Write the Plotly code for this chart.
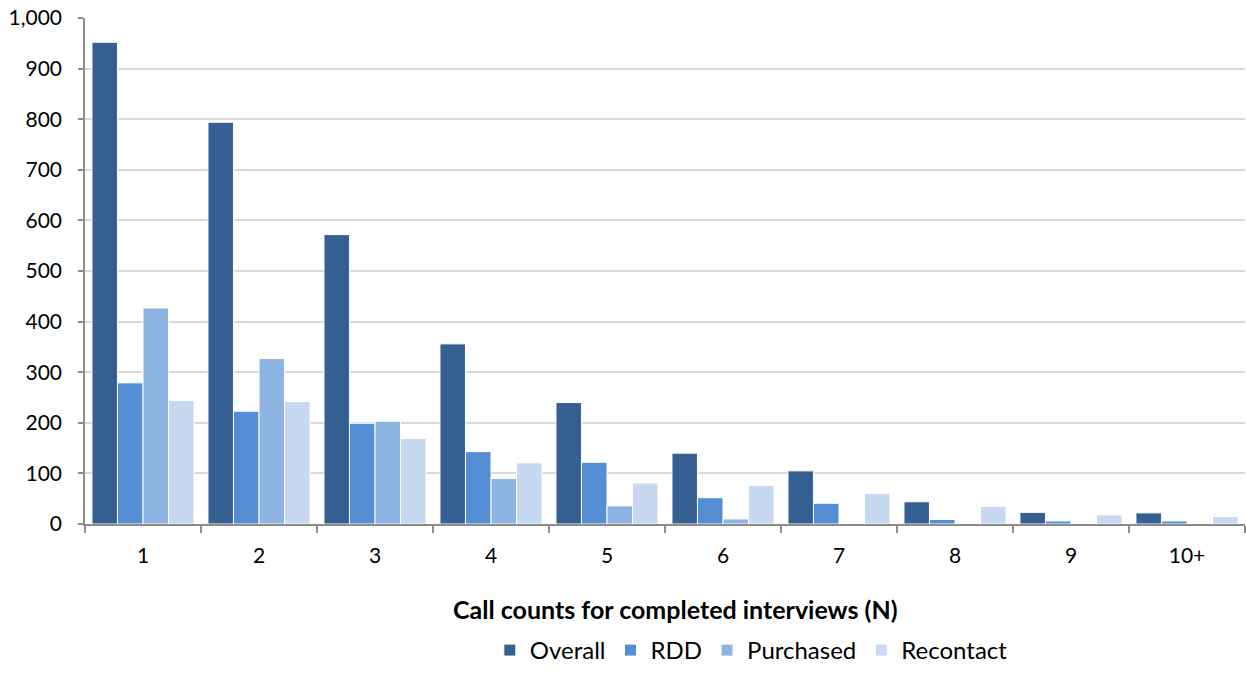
import plotly.graph_objects as go

# Call counts (x categories) and completed interviews per sample source
categories = ["1", "2", "3", "4", "5", "6", "7", "8", "9", "10+"]
overall = [952, 794, 572, 356, 240, 140, 105, 44, 23, 22]
rdd = [279, 223, 199, 143, 122, 52, 41, 9, 6, 6]
purchased = [427, 327, 203, 90, 36, 10, 0, 0, 0, 0]
recontact = [244, 242, 169, 121, 81, 76, 60, 35, 18, 15]

y_ticks = [0, 100, 200, 300, 400, 500, 600, 700, 800, 900, 1000]

series = [
    ("Overall", overall, "#376092"),
    ("RDD", rdd, "#558ED5"),
    ("Purchased", purchased, "#8EB4E3"),
    ("Recontact", recontact, "#C6D9F1"),
]

FONT = "Lato, Carlito, Calibri, sans-serif"

fig = go.Figure()
for name, vals, color in series:
    fig.add_trace(go.Bar(
        x=categories, y=vals, name=name,
        marker=dict(color=color, line=dict(color="white", width=1)),
    ))

fig.update_layout(
    width=1246, height=673,
    margin=dict(l=85, r=1, t=18, b=149, autoexpand=False),
    paper_bgcolor="white", plot_bgcolor="white",
    barmode="group", bargap=0.12, bargroupgap=0,
    font=dict(family=FONT, size=21, color="#000000"),
    showlegend=True,
    legend=dict(
        orientation="h", xref="container", yref="container",
        x=0.603, y=-0.008, xanchor="center", yanchor="bottom",
        font=dict(family=FONT, size=24, color="#000000"),
        itemwidth=30, tracegroupgap=0,
    ),
    annotations=[dict(
        text="<b>Call counts for completed interviews (N)</b>",
        x=0.509, y=-0.168, xref="paper", yref="paper",
        xanchor="center", yanchor="middle", showarrow=False,
        font=dict(family=FONT, size=25, color="#000000"),
    )],
)

fig.update_xaxes(
    type="category",
    showline=True, linecolor="#8C8C8C", linewidth=2,
    ticks="outside", tickson="boundaries", ticklen=7, tickcolor="#8C8C8C", tickwidth=1.5,
    ticklabelstandoff=12,
    showgrid=False,
    tickfont=dict(family=FONT, size=21, color="#000000"),
)
fig.update_yaxes(
    range=[0, 1000], tickvals=y_ticks, tickformat=",",
    showline=True, linecolor="#8C8C8C", linewidth=1.5,
    ticks="outside", ticklen=5, tickcolor="#8C8C8C", tickwidth=1.5,
    ticklabelstandoff=12,
    showgrid=True, gridcolor="#D9D9D9", gridwidth=2,
    zeroline=False,
    tickfont=dict(family=FONT, size=21, color="#000000"),
)

fig.write_html("out.html")
